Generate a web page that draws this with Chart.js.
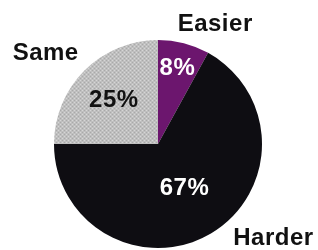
<!DOCTYPE html>
<html>
<head>
<meta charset="utf-8">
<script src="https://cdn.jsdelivr.net/npm/chart.js@4"></script>
<style>
  html, body { margin: 0; padding: 0; background: #fff; }
  #wrap { width: 318px; height: 250px; }
</style>
</head>
<body>
<div id="wrap"><canvas id="pie" width="318" height="250"></canvas></div>
<script>
const categories = ['Easier', 'Harder', 'Same'];
const shares = [8, 67, 25];
const sliceColors = ['#6c166e', '#0e0d12', 'gray-pattern'];
const valueColors = ['#ffffff', '#ffffff', '#111111'];

// halftone-ish grey like the printed original
function grayPattern() {
    const c = document.createElement('canvas');
    c.width = 4; c.height = 4;
    const g = c.getContext('2d');
    g.fillStyle = '#bfbfbf';
    g.fillRect(0, 0, 4, 4);
    g.fillStyle = '#d6d6d6';
    g.fillRect(0, 0, 1, 1); g.fillRect(2, 2, 1, 1);
    g.fillStyle = '#a9a9a9';
    g.fillRect(2, 0, 1, 1); g.fillRect(0, 2, 1, 1);
    return g.createPattern(c, 'repeat');
}

const colors = sliceColors.map(c => c === 'gray-pattern' ? grayPattern() : c);

// where the words sit, in pie radii from the centre
const valuePos = [0.75, 0.5, 0.6];
const namePos = [[0.55, -1.15], [1.11, 0.91], [-1.08, -0.87]];

const pieLabels = {
    id: 'pieLabels',
    afterDatasetsDraw(chart) {
        const ctx = chart.ctx;
        const arcs = chart.getDatasetMeta(0).data;
        ctx.save();
        ctx.font = 'bold 24px "Liberation Sans", Arial, sans-serif';
        ctx.letterSpacing = '0.5px';
        ctx.textAlign = 'center';
        ctx.textBaseline = 'middle';
        arcs.forEach((arc, i) => {
            const { x, y, startAngle, endAngle, outerRadius } = arc.getProps(['x', 'y', 'startAngle', 'endAngle', 'outerRadius'], true);
            const mid = (startAngle + endAngle) / 2;
            const r = outerRadius * valuePos[i];
            ctx.fillStyle = valueColors[i];
            ctx.fillText(shares[i] + '%', x + Math.cos(mid) * r, y + Math.sin(mid) * r);
            ctx.fillStyle = '#111111';
            ctx.fillText(categories[i], x + namePos[i][0] * outerRadius, y + namePos[i][1] * outerRadius);
        });
        ctx.restore();
    }
};

new Chart(document.getElementById('pie').getContext('2d'), {
    type: 'pie',
    data: {
        labels: categories,
        datasets: [{
            data: shares,
            backgroundColor: colors,
            borderWidth: 0
        }]
    },
    options: {
        responsive: false,
        animation: false,
        layout: { padding: { left: 54, right: 56, top: 40, bottom: 2 } },
        plugins: {
            legend: { display: false },
            tooltip: { enabled: false }
        }
    },
    plugins: [pieLabels]
});
</script>
</body>
</html>
